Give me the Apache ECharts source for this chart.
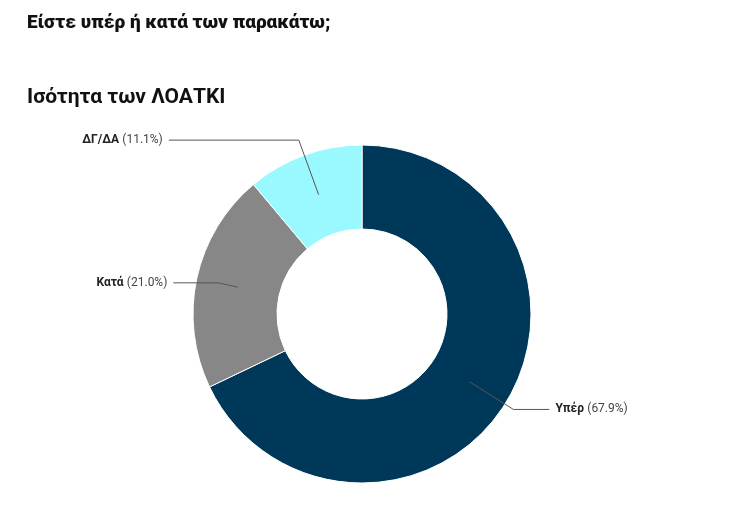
<!DOCTYPE html>
<html><head><meta charset="utf-8">
<script src="https://cdn.jsdelivr.net/npm/echarts@6/dist/echarts.min.js"></script>
<style>body{margin:0;background:#fff}#chart{width:734px;height:509px}</style>
</head><body><div id="chart"></div>
<script>
const categories = ['Υπέρ', 'Κατά', 'ΔΓ/ΔΑ'];
const values = [67.9, 21.0, 11.1];
const colors = ['#00385A', '#878787', '#99F9FF'];
const lineLen = [[52, 36], [20, 45], [58, 130]];

let myChart = echarts.init(document.getElementById('chart'));
let center = [362, 314];
let option = {
    title: [
        { text: 'Είστε υπέρ ή κατά των παρακάτω;', left: 22, top: 9, textStyle: { fontFamily: 'Roboto', fontSize: 19, fontWeight: 900, color: '#111' } },
        { text: 'Ισότητα των ΛΟΑΤΚΙ', left: 22, top: 82, textStyle: { fontFamily: 'Roboto', fontSize: 21, fontWeight: 'bold', color: '#111' } }
    ],
    series: [{
        type: 'pie',
        center: center,
        radius: [85, 169],
        startAngle: 90,
        clockwise: true,
        silent: true,
        label: { show: false },
        labelLine: { show: false },
        itemStyle: { borderColor: '#fff', borderWidth: 1 },
        data: categories.map((c, i) => ({ name: c, value: values[i], itemStyle: { color: colors[i] } }))
    }, {
        type: 'pie',
        center: center,
        radius: [0, 127],
        startAngle: 90,
        clockwise: true,
        silent: true,
        itemStyle: { color: 'transparent' },
        label: {
            formatter: p => '{b|' + p.name + '} {n|(' + p.value.toFixed(1) + '%)}',
            rich: {
                b: { fontFamily: 'Roboto', fontSize: 12, fontWeight: 'bold', color: '#222' },
                n: { fontFamily: 'Roboto', fontSize: 12, color: '#444' }
            },
            distanceToLabelLine: 6
        },
        labelLine: { lineStyle: { color: '#555', width: 1 } },
        data: categories.map((c, i) => ({
            name: c, value: values[i],
            labelLine: { length: lineLen[i][0], length2: lineLen[i][1] }
        })),
        z: 3
    }]
};
myChart.setOption(option);
</script></body></html>
